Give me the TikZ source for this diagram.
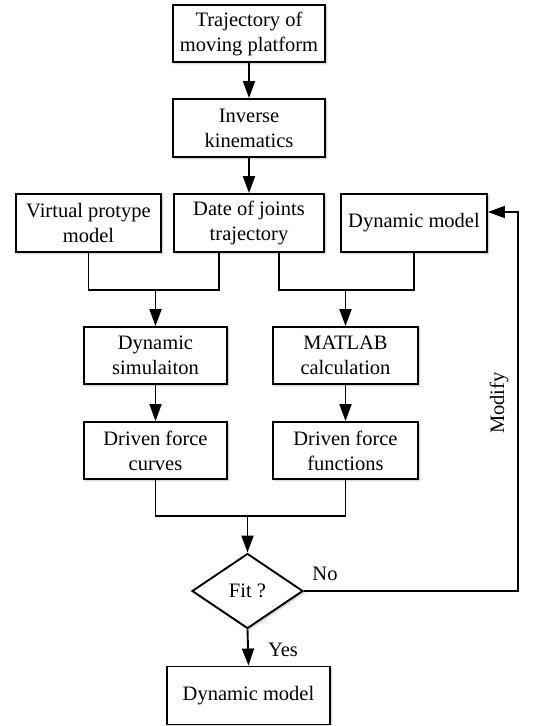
\documentclass[tikz,border=0pt]{standalone}
\usepackage{fontspec}
\setmainfont{Liberation Serif}
\usetikzlibrary{arrows.meta,shapes.geometric,shadows.blur}
\begin{document}
\begin{tikzpicture}[x=1pt,y=-1pt,
  box/.style={draw, line width=1.9pt, fill=white, align=center, inner sep=2pt,
    font=\fontsize{20.5}{25}\selectfont,
    blur shadow={shadow xshift=1.5pt, shadow yshift=-1.5pt, shadow opacity=25, shadow blur steps=6}},
  dec/.style={draw, diamond, line width=1.9pt, fill=white, inner sep=0pt, aspect=1.48,
    minimum width=111pt, minimum height=75pt, font=\fontsize{20.5}{25}\selectfont,
    blur shadow={shadow xshift=1.5pt, shadow yshift=-1.5pt, shadow opacity=25, shadow blur steps=6}},
  arr/.style={line width=1.9pt, -{Triangle[length=17pt,width=12pt]}},
  ln/.style={line width=1.9pt},
  lbl/.style={font=\fontsize{20.5}{25}\selectfont}]
\useasboundingbox (0,0) rectangle (546,726);
\node[box, minimum width=152pt, minimum height=57pt] (b1) at (249,33.5) {Trajectory of\\moving platform};
\node[box, minimum width=152pt, minimum height=58pt] (b2) at (249,128) {Inverse\\kinematics};
\node[box, minimum width=145pt, minimum height=58pt] (b3) at (88.5,223) {Virtual protype\\model};
\node[box, minimum width=150pt, minimum height=58pt] (b4) at (249,223) {Date of joints\\trajectory};
\node[box, minimum width=146pt, minimum height=58pt] (b5) at (414,223) {Dynamic model};
\node[box, minimum width=143pt, minimum height=57pt] (b6) at (155.5,355.5) {Dynamic\\simulaiton};
\node[box, minimum width=145pt, minimum height=57pt] (b7) at (345.5,355.5) {MATLAB\\calculation};
\node[box, minimum width=143pt, minimum height=57pt] (b8) at (155.5,450.5) {Driven force\\curves};
\node[box, minimum width=145pt, minimum height=57pt] (b9) at (345.5,450.5) {Driven force\\functions};
\node[dec] (d) at (247.5,591) {Fit ?};
\node[box, minimum width=163pt, minimum height=58pt] (b10) at (248.5,695.5) {Dynamic model};
\coordinate (j1) at (155.5,290);
\coordinate (j2) at (345.5,290);
\coordinate (j3) at (247.5,516);
\coordinate (c1) at (518,591);
\draw[arr] (b1) -- (b2);
\draw[arr] (b2) -- (b4);
\draw[ln] (b3.south) |- (j1) -| ([xshift=-30pt]b4.south);
\draw[ln] ([xshift=30pt]b4.south) |- (j2) -| (b5.south);
\draw[arr] (j1) -- (b6.north);
\draw[arr] (j2) -- (b7.north);
\draw[arr] (b6) -- (b8);
\draw[arr] (b7) -- (b9);
\draw[ln] (b8.south) |- (j3) -| (b9.south);
\draw[arr] (j3) -- (d.north);
\draw[arr] (d.east) -- (c1) |- ([yshift=11pt]b5.east);
\draw[arr] (d.south) -- (b10.north);
\node[lbl] (no) at (325,574) {No};
\node[lbl] (yes) at (283,650) {Yes};
\node[lbl, rotate=90] (mod) at (499,403) {Modify};
\end{tikzpicture}
\end{document}
